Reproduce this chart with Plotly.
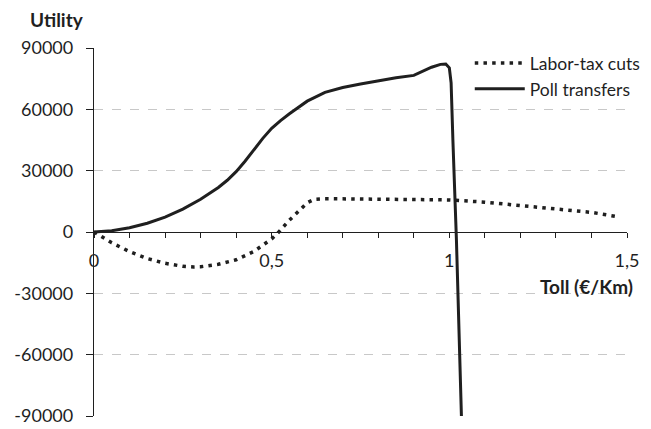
import plotly.graph_objects as go

# Toll (€/Km)
poll_x = [0, 0.05, 0.1, 0.15, 0.2, 0.25, 0.3, 0.325, 0.35, 0.375, 0.4, 0.425, 0.45, 0.475, 0.5, 0.525,
          0.55, 0.6, 0.65, 0.7, 0.75, 0.8, 0.85, 0.9, 0.925, 0.95, 0.975, 0.99, 1.0, 1.005, 1.01,
          1.02, 1.035]
poll_y = [0, 600, 2100, 4300, 7300, 11200, 16000, 18700, 21800, 25300, 29500, 34600, 40300, 45800, 50700, 54500,
          57800, 64000, 68300, 70700, 72400, 74000, 75400, 76600, 78600, 80600, 82000, 82200, 80300, 73000, 45000,
          -4000, -96000]

labor_x = [0, 0.05, 0.1, 0.15, 0.2, 0.25, 0.28, 0.3, 0.35, 0.4, 0.45, 0.5, 0.52, 0.55, 0.6, 0.62,
           0.65, 0.7, 0.8, 0.9, 1.0, 1.1, 1.2, 1.3, 1.4, 1.48]
labor_y = [0, -5300, -9600, -13000, -15300, -16800, -17100, -17000, -15800, -13600, -9500, -3400, 0,
           5800, 14300, 16000, 16300, 16200, 16000, 15900, 15700, 14600, 13000, 11500, 9600, 7300]

y_tickvals = [-90000, -60000, -30000, 0, 30000, 60000, 90000]
y_ticktext = ["-90000", "-60000", "-30000", "0", "30000", "60000", "90000"]
x_tickvals = [0, 0.5, 1, 1.5]
x_ticktext = ["0", "0,5", "1", "1,5"]

INK = "#1f1f1f"
FONT = "Lato"

fig = go.Figure()
fig.add_trace(go.Scatter(x=labor_x, y=labor_y, mode="lines", name="Labor-tax cuts",
                         line=dict(color=INK, width=3.5, dash="3.5px,5.2px")))
fig.add_trace(go.Scatter(x=poll_x, y=poll_y, mode="lines", name="Poll transfers",
                         line=dict(color=INK, width=3)))

fig.update_layout(
    width=651, height=429,
    margin=dict(l=86, r=32, t=40, b=21, autoexpand=False),
    paper_bgcolor="white", plot_bgcolor="white",
    font=dict(family=FONT, size=18, color=INK),
    showlegend=True,
    legend=dict(x=0.705, y=1.008, xanchor="left", yanchor="top",
                bgcolor="rgba(0,0,0,0)", itemwidth=50,
                font=dict(family=FONT, size=17.5, color=INK)),
    xaxis=dict(range=[0, 1.5], anchor="free", position=0.5, automargin=False,
               showline=True, linecolor=INK, linewidth=1.3,
               showgrid=False, zeroline=False,
               tickmode="array", tickvals=x_tickvals, ticktext=x_ticktext,
               ticks="outside", ticklen=5, tickcolor=INK, tickwidth=1.3,
               ticklabelstandoff=7,
               minor=dict(tickmode="linear", tick0=0, dtick=0.1, ticks="outside",
                          ticklen=5, tickcolor=INK, tickwidth=1.3, showgrid=False),
               tickfont=dict(family=FONT, size=18, color=INK)),
    yaxis=dict(range=[-90000, 90000], automargin=False,
               showline=True, linecolor=INK, linewidth=1.3,
               showgrid=True, gridcolor="#c8c8c8", griddash="dash", gridwidth=1.3,
               zeroline=False,
               tickmode="array", tickvals=y_tickvals, ticktext=y_ticktext,
               ticks="outside", ticklen=7, tickcolor=INK, tickwidth=1.3,
               ticklabelstandoff=9,
               tickfont=dict(family=FONT, size=18, color=INK)),
    annotations=[
        dict(text="<b>Utility</b>", xref="paper", yref="paper", x=-0.124, y=1.078,
             xanchor="left", yanchor="middle", showarrow=False,
             font=dict(family=FONT, size=19, color=INK)),
        dict(text="<b>Toll (€/Km)</b>", xref="paper", yref="paper", x=1.015, y=0.352,
             xanchor="right", yanchor="middle", showarrow=False,
             font=dict(family=FONT, size=19, color=INK)),
    ],
)

fig.write_html("out.html")
